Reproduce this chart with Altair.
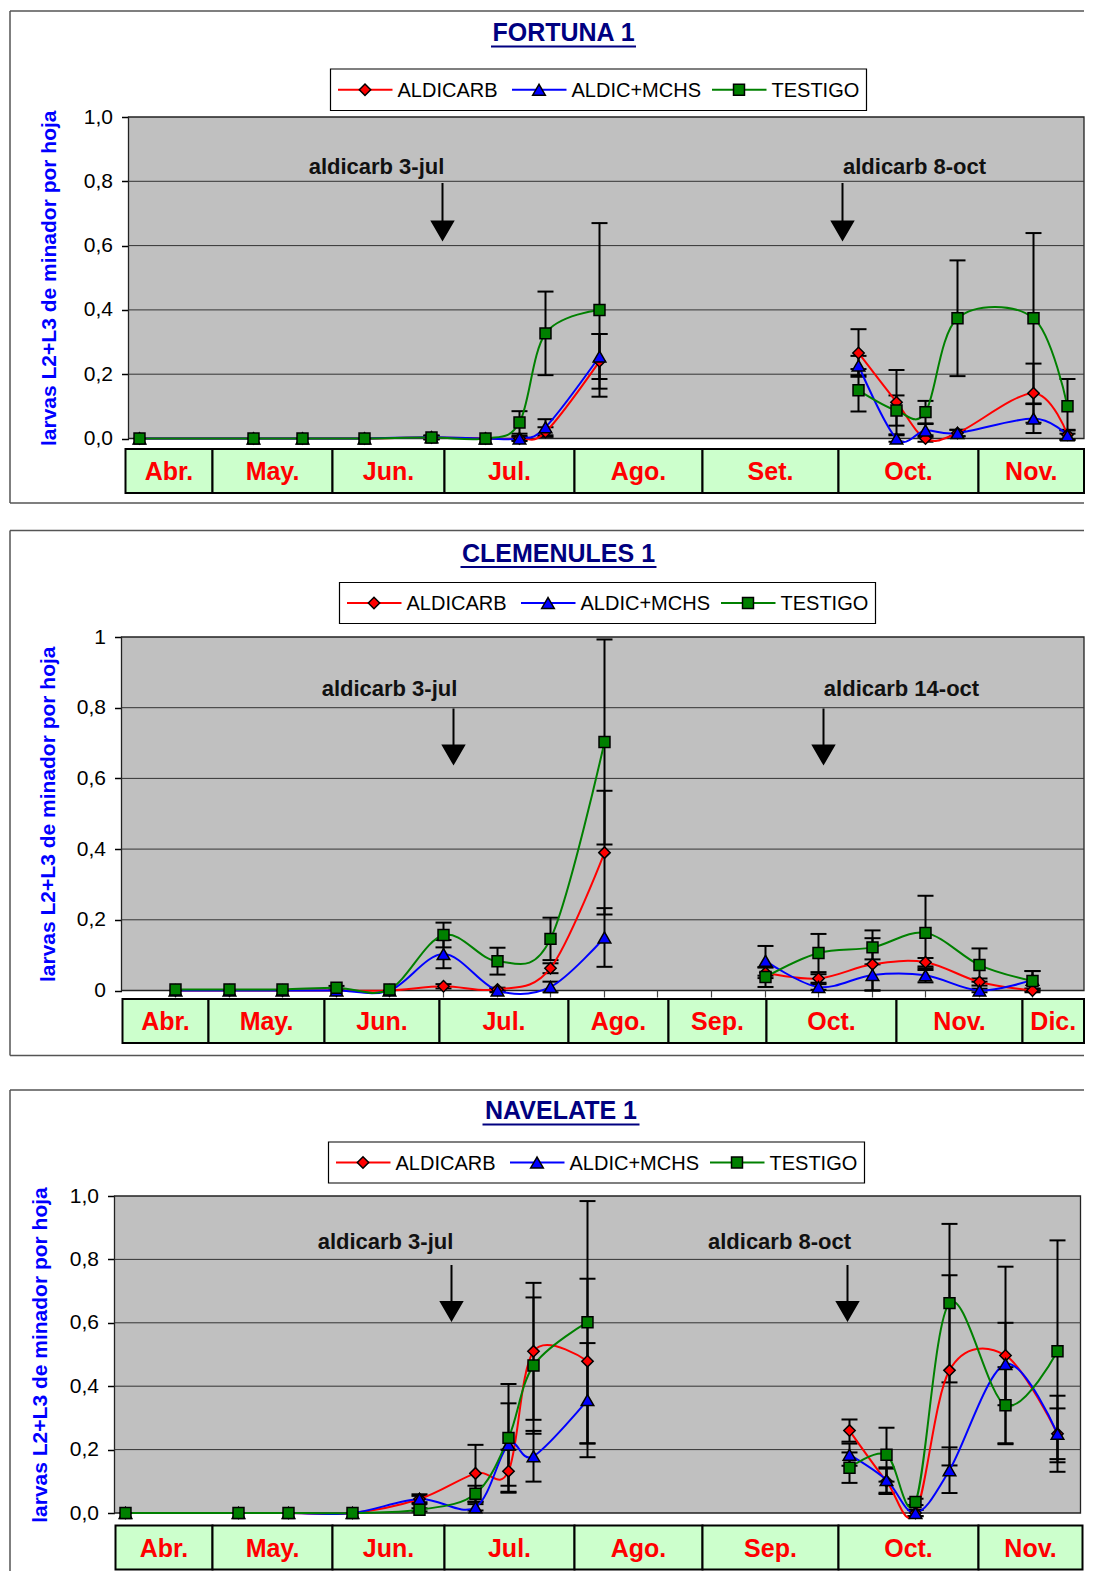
import altair as alt
import pandas as pd

FONT = "Liberation Sans"
SERIES = ["ALDICARB", "ALDIC+MCHS", "TESTIGO"]
COLORS = ["#FF0000", "#0000FF", "#008000"]
SHAPES = ["diamond", "triangle-up", "square"]
SYM_SIZE = [130, 160, 120]
YTITLE = "larvas L2+L3 de minador por hoja"
Y_TICKS = [0, 0.2, 0.4, 0.6, 0.8, 1.0]
GRID = [0.2, 0.4, 0.6, 0.8]

# ---------------- FORTUNA 1 ----------------
F_T = [139, 253, 302, 364, 431, 485, 519, 545, 599, 858, 896, 925, 957, 1033, 1067]
F_SEG = [0, 0, 0, 0, 0, 0, 0, 0, 0, 1, 1, 1, 1, 1, 1]
F_ALD = [0, 0, 0, 0, 0.003, 0, 0, 0.02, 0.24, 0.266, 0.113, 0.0, 0.017, 0.141, 0.012]
F_ALD_E = [0, 0, 0, 0, 0.005, 0, 0.005, 0.015, 0.085, 0.074, 0.10, 0.01, 0.01, 0.092, 0.015]
F_MCH = [0, 0, 0, 0, 0.004, 0, 0, 0.035, 0.255, 0.227, 0.0, 0.025, 0.017, 0.062, 0.01]
F_MCH_E = [0, 0, 0, 0, 0.005, 0, 0.008, 0.025, 0.07, 0.03, 0.01, 0.02, 0.01, 0.045, 0.015]
F_TES = [0, 0, 0, 0, 0.003, 0, 0.05, 0.327, 0.40, 0.15, 0.087, 0.082, 0.374, 0.374, 0.10]
F_TES_E = [0, 0, 0, 0, 0.006, 0, 0.035, 0.13, 0.27, 0.066, 0.047, 0.035, 0.18, 0.265, 0.085]
F_EDGES = [125, 212, 332, 444, 574, 702, 838, 978, 1083.5]
F_MONTHS = ["Abr.", "May.", "Jun.", "Jul.", "Ago.", "Set.", "Oct.", "Nov."]
F_NOTES = ["aldicarb 3-jul", "aldicarb 8-oct"]
F_NOTE_T = [376, 914]
F_ARROW_T = [442, 842]

# ---------------- CLEMENULES 1 ----------------
C_T = [175, 229, 282, 336, 389, 443, 497, 550, 604, 765, 818, 872, 925, 979, 1032]
C_SEG = [0, 0, 0, 0, 0, 0, 0, 0, 0, 1, 1, 1, 1, 1, 1]
C_ALD = [0, 0, 0, 0, 0, 0.012, 0.003, 0.063, 0.39, 0.05, 0.034, 0.074, 0.08, 0.024, 0.0]
C_ALD_E = [0, 0, 0, 0, 0, 0.006, 0.005, 0.014, 0.175, 0.015, 0.012, 0.074, 0.012, 0.01, 0.005]
C_MCH = [0, 0, 0, 0, 0, 0.103, 0.0, 0.01, 0.15, 0.084, 0.01, 0.044, 0.043, 0.0, 0.03]
C_MCH_E = [0, 0, 0, 0, 0, 0.04, 0.005, 0.015, 0.083, 0.042, 0.008, 0.044, 0.02, 0.005, 0.025]
C_TES = [0.003, 0.003, 0.003, 0.008, 0.003, 0.157, 0.083, 0.146, 0.703, 0.038, 0.106, 0.122, 0.163, 0.072, 0.027]
C_TES_E = [0, 0, 0, 0.005, 0, 0.035, 0.038, 0.06, 0.29, 0.028, 0.054, 0.048, 0.105, 0.047, 0.028]
C_TICKS = [175, 229, 282, 336, 389, 443, 497, 550, 604, 657, 711, 765, 818, 872, 925, 979, 1032]
C_EDGES = [122, 208, 324, 439, 568, 668, 766, 896, 1022, 1083.5]
C_MONTHS = ["Abr.", "May.", "Jun.", "Jul.", "Ago.", "Sep.", "Oct.", "Nov.", "Dic."]
C_NOTES = ["aldicarb 3-jul", "aldicarb 14-oct"]
C_NOTE_T = [389, 901]
C_ARROW_T = [453, 823]

# ---------------- NAVELATE 1 ----------------
N_T = [125, 238, 288, 352, 419, 475, 508, 533, 587, 849, 886, 915, 949, 1005, 1057]
N_SEG = [0, 0, 0, 0, 0, 0, 0, 0, 0, 1, 1, 1, 1, 1, 1]
N_ALD = [0, 0, 0, 0, 0.044, 0.125, 0.132, 0.51, 0.479, 0.26, 0.10, 0.0, 0.45, 0.497, 0.25]
N_ALD_E = [0, 0, 0, 0, 0.01, 0.09, 0.068, 0.216, 0.26, 0.035, 0.04, 0.01, 0.30, 0.28, 0.12]
N_MCH = [0, 0, 0, 0, 0.044, 0.018, 0.216, 0.179, 0.356, 0.184, 0.104, 0.0, 0.135, 0.47, 0.25]
N_MCH_E = [0, 0, 0, 0, 0.015, 0.01, 0.13, 0.08, 0.18, 0.035, 0.04, 0.01, 0.072, 0.13, 0.08]
N_TES = [0, 0, 0, 0, 0.01, 0.061, 0.237, 0.465, 0.602, 0.143, 0.184, 0.035, 0.662, 0.34, 0.51]
N_TES_E = [0, 0, 0, 0, 0.005, 0.025, 0.17, 0.215, 0.382, 0.048, 0.085, 0.01, 0.25, 0.12, 0.35]
N_EDGES = [115, 212, 332, 444, 574, 702, 838, 978, 1082]
N_MONTHS = ["Abr.", "May.", "Jun.", "Jul.", "Ago.", "Sep.", "Oct.", "Nov."]
N_NOTES = ["aldicarb 3-jul", "aldicarb 8-oct"]
N_NOTE_T = [385, 779]
N_ARROW_T = [451, 847]

XDOM = [114, 1083.5]
BOX_L = 9.5
BOX_R = 1083.5
LEG_W = 536
LEG_ITEM = [0, 174, 374]

LAB1 = "replace(format(datum.value, '.1f'), '.', ',')"
LAB2 = "replace(format(datum.value, '~g'), '.', ',')"


def XS():
    return alt.Scale(domain=XDOM, nice=False, zero=False)


def X(f):
    return alt.X(f, type="quantitative", scale=XS(), axis=None)


def XDat(v):
    return alt.XDatum(v, type="quantitative", scale=XS(), axis=None)


def yaxis(p):
    return alt.Axis(values=Y_TICKS, labelExpr=p["lab"], grid=False, domain=False,
                    ticks=True, tickSize=7, tickWidth=1.5, tickColor="black",
                    labelFont=FONT, labelFontSize=21, labelColor="black",
                    labelPadding=9, labelOverlap=False,
                    offset=-(p["gl"] - XDOM[0]), title=YTITLE, titleFont=FONT,
                    titleFontSize=21, titleFontWeight="bold", titleColor="#0000FF",
                    titlePadding=p["tpad"])


def Y(f, p):
    return alt.Y(f, type="quantitative", scale=alt.Scale(domain=[0, 1], nice=False, zero=False),
                 axis=yaxis(p))


def series_df(t, seg, vals, errs):
    rows = []
    for s, vl, el in zip(SERIES, vals, errs):
        for ti, sg, v, e in zip(t, seg, vl, el):
            rows.append(dict(t=ti, seg=sg, serie=s, v=v, err=e, lo=v - e, hi=v + e))
    return pd.DataFrame(rows)


def panel(p):
    H = p["H"]
    gl, gr = p["gl"], p["gr"]
    one = pd.DataFrame({"k": [0]})
    base = alt.Chart(one)
    L = []
    by0, by1 = p["box"]
    # invisible slot that fixes the vertical room of the panel
    L.append(base.mark_rect(opacity=0).encode(
        x=XDat(BOX_L), x2=alt.datum(BOX_R), y=alt.value(by0), y2=alt.value(p["slot"])))
    # panel frame (top, left and optionally bottom edges)
    frame = dict(color="#555555", strokeWidth=1.5)
    L.append(base.mark_rule(**frame).encode(
        x=XDat(BOX_L), x2=alt.datum(BOX_R), y=alt.value(by0)))
    L.append(base.mark_rule(**frame).encode(
        x=XDat(BOX_L), y=alt.value(by0), y2=alt.value(by1)))
    if p["frame_bottom"]:
        L.append(base.mark_rule(**frame).encode(
            x=XDat(BOX_L), x2=alt.datum(BOX_R), y=alt.value(by1)))
    # title with underline
    tc, tw = p["tc"], p["tw"]
    L.append(base.mark_text(font=FONT, fontSize=25, fontWeight="bold", color="#000080",
                            align="center", baseline="middle").encode(
        x=XDat(tc), y=alt.value(p["ty"]), text=alt.value(p["title"])))
    L.append(base.mark_rule(color="#000080", strokeWidth=2).encode(
        x=XDat(tc - tw / 2), x2=alt.datum(tc + tw / 2), y=alt.value(p["uy"])))
    # legend
    lx = p["lx"]
    ly0, ly1 = p["ly"]
    lc = (ly0 + ly1) / 2
    L.append(base.mark_rect(fill="white", stroke="black", strokeWidth=1.2).encode(
        x=XDat(lx), x2=alt.datum(lx + LEG_W), y=alt.value(ly0), y2=alt.value(ly1)))
    for i, s in enumerate(SERIES):
        x0 = lx + LEG_ITEM[i]
        L.append(base.mark_rule(color=COLORS[i], strokeWidth=2).encode(
            x=XDat(x0 + 7.5), x2=alt.datum(x0 + 62), y=alt.value(lc)))
        L.append(base.mark_point(shape=SHAPES[i], size=SYM_SIZE[i], filled=True,
                                 fill=COLORS[i], stroke="black", strokeWidth=1.5,
                                 opacity=1).encode(x=XDat(x0 + 34.5), y=alt.value(lc)))
        L.append(base.mark_text(font=FONT, fontSize=20, align="left", baseline="middle",
                                color="black").encode(
            x=XDat(x0 + 67), y=alt.value(lc + 1), text=alt.value(s)))
    # plot area
    L.append(base.mark_rect(fill="#C0C0C0", stroke="#222222", strokeWidth=1.3).encode(
        x=XDat(gl), x2=alt.datum(gr), y=alt.value(0), y2=alt.value(H)))
    gdf = pd.DataFrame({"g": GRID})
    L.append(alt.Chart(gdf).mark_rule(color="#333333", strokeWidth=1).encode(
        y=Y("g", p), x=XDat(gl), x2=alt.datum(gr)))
    # month band
    e = p["edges"]
    mdf = pd.DataFrame({"a": e[:-1], "b": e[1:], "m": p["months"]})
    mdf["c"] = (mdf["a"] + mdf["b"]) / 2
    b0, b1 = p["band"]
    L.append(alt.Chart(mdf).mark_rect(fill="#CCFFCC", stroke="black", strokeWidth=2).encode(
        x=X("a"), x2="b", y=alt.value(b0), y2=alt.value(b1)))
    L.append(alt.Chart(mdf).mark_text(font=FONT, fontSize=25, fontWeight="bold", color="#FF0000",
                                      align="center", baseline="middle").encode(
        x=X("c"), y=alt.value((b0 + b1) / 2 + 1), text="m"))
    if p.get("ticks"):
        tdf = pd.DataFrame({"t": p["ticks"]})
        L.append(alt.Chart(tdf).mark_rule(color="#444444", strokeWidth=1.2).encode(
            x=X("t"), y=alt.value(H), y2=alt.value(H + 7)))
    # annotations
    for note, nt, at in zip(p["notes"], p["note_t"], p["arrow_t"]):
        L.append(base.mark_text(font=FONT, fontSize=22, fontWeight="bold", color="#111111",
                                align="center", baseline="middle").encode(
            x=XDat(nt), y=alt.value(p["ann_y"]), text=alt.value(note)))
        s0, s1 = p["shaft"]
        L.append(base.mark_rule(color="black", strokeWidth=2).encode(
            x=XDat(at), y=alt.value(s0), y2=alt.value(s1)))
        L.append(base.mark_point(shape="triangle-down", size=440, filled=True, fill="black",
                                 stroke="black", opacity=1).encode(
            x=XDat(at), y=alt.value(p["head_y"])))
    # data
    df = p["df"]
    edf = df[df["err"] > 0]
    L.append(alt.Chart(edf).mark_rule(color="black", strokeWidth=2).encode(
        x=X("t"), y=Y("lo", p), y2="hi"))
    for fld in ["lo", "hi"]:
        L.append(alt.Chart(edf).mark_tick(orient="horizontal", color="black", thickness=2,
                                          size=16, opacity=1).encode(x=X("t"), y=Y(fld, p)))
    for i, s in enumerate(SERIES):
        sdf = df[df["serie"] == s]
        L.append(alt.Chart(sdf).mark_line(interpolate="cardinal", color=COLORS[i],
                                          strokeWidth=2).encode(
            x=X("t"), y=Y("v", p), detail="seg:N"))
    for i, s in enumerate(SERIES):
        sdf = df[df["serie"] == s]
        L.append(alt.Chart(sdf).mark_point(shape=SHAPES[i], size=SYM_SIZE[i], filled=True,
                                           fill=COLORS[i], stroke="black", strokeWidth=1.5,
                                           opacity=1).encode(x=X("t"), y=Y("v", p)))
    return alt.layer(*L).properties(width=XDOM[1] - XDOM[0], height=H)


P1 = dict(H=321.5, gl=128, gr=1083.5, lab=LAB1, tpad=24,
          box=(-106, 386), slot=412, frame_bottom=True,
          title="FORTUNA 1", tc=563, tw=145, ty=-84, uy=-70.5,
          lx=330, ly=(-48, -6.5),
          edges=F_EDGES, months=F_MONTHS, band=(332, 376),
          notes=F_NOTES, note_t=F_NOTE_T, arrow_t=F_ARROW_T,
          ann_y=50, shaft=(66, 106), head_y=113.5,
          df=series_df(F_T, F_SEG, [F_ALD, F_MCH, F_TES], [F_ALD_E, F_MCH_E, F_TES_E]))

P2 = dict(H=353.5, gl=121, gr=1083.5, lab=LAB2, tpad=18,
          box=(-106.5, 418.5), slot=451.5, frame_bottom=True,
          title="CLEMENULES 1", tc=558, tw=196, ty=-83.5, uy=-70,
          lx=339, ly=(-54.5, -13.5),
          edges=C_EDGES, months=C_MONTHS, band=(362, 406),
          notes=C_NOTES, note_t=C_NOTE_T, arrow_t=C_ARROW_T,
          ann_y=51.5, shaft=(71.5, 110), head_y=117.5, ticks=C_TICKS,
          df=series_df(C_T, C_SEG, [C_ALD, C_MCH, C_TES], [C_ALD_E, C_MCH_E, C_TES_E]))

P3 = dict(H=317, gl=114, gr=1080, lab=LAB1, tpad=19,
          box=(-106, 378), slot=378, frame_bottom=False,
          title="NAVELATE 1", tc=560.5, tw=157, ty=-85, uy=-71.5,
          lx=328, ly=(-54, -13),
          edges=N_EDGES, months=N_MONTHS, band=(329.5, 373.5),
          notes=N_NOTES, note_t=N_NOTE_T, arrow_t=N_ARROW_T,
          ann_y=46, shaft=(69, 107), head_y=115,
          df=series_df(N_T, N_SEG, [N_ALD, N_MCH, N_TES], [N_ALD_E, N_MCH_E, N_TES_E]))

chart = alt.vconcat(panel(P1), panel(P2), panel(P3), spacing=0).properties(
    padding={"left": 0.5, "top": 2, "right": 0, "bottom": 0},
    background="white",
).configure_view(stroke=None)

chart.save("out.html", embed_options={"renderer": "svg", "actions": False})
